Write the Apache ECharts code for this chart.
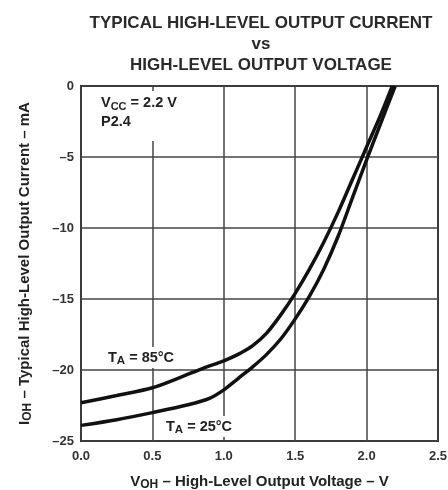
<!DOCTYPE html>
<html>
<head>
<meta charset="utf-8">
<script src="https://cdn.jsdelivr.net/npm/echarts@6/dist/echarts.min.js"></script>
<style>
  html, body { margin: 0; padding: 0; background: #fff; }
  #chart { width: 448px; height: 490px; }
</style>
</head>
<body>
<div id="chart"></div>
<script>
// 曲线数据 (V, mA)
const voltage85 = [0.0, 0.25, 0.5, 0.7, 0.85, 1.0, 1.1, 1.2, 1.3, 1.4, 1.5, 1.6, 1.7, 1.8, 1.9, 2.0, 2.1, 2.18];
const current85 = [-22.3, -21.8, -21.25, -20.5, -19.9, -19.35, -18.9, -18.3, -17.4, -16.1, -14.6, -12.9, -11.0, -8.9, -6.6, -4.3, -2.0, 0];
const voltage25 = [0.0, 0.25, 0.5, 0.75, 0.9, 1.0, 1.1, 1.2, 1.3, 1.4, 1.5, 1.6, 1.7, 1.8, 1.9, 2.0, 2.1, 2.2];
const current25 = [-23.9, -23.5, -23.0, -22.45, -22.0, -21.4, -20.6, -19.8, -18.9, -17.8, -16.4, -14.8, -12.9, -10.6, -7.9, -5.2, -2.6, 0];
const xTicks = [0, 0.5, 1.0, 1.5, 2.0, 2.5];
const yTicks = [-25, -20, -15, -10, -5, 0];

const toPairs = (xs, ys) => xs.map((x, i) => [x, ys[i]]);

const font = 'Liberation Sans, Arial, sans-serif';
const ink = '#222';

// 下标文字样式
const subRich = (size, key) => ({
  m: { fontFamily: font, fontSize: size, fontWeight: 'bold', [key]: ink },
  s: { fontFamily: font, fontSize: size - 3, fontWeight: 'bold', [key]: ink, verticalAlign: 'bottom', padding: [7, 0, 0, 0] },
});

const chart = echarts.init(document.getElementById('chart'));
chart.setOption({
  animation: false,
  title: {
    text: 'TYPICAL HIGH-LEVEL OUTPUT CURRENT\nvs\nHIGH-LEVEL OUTPUT VOLTAGE',
    left: 256,
    top: 8,
    textAlign: 'center',
    textStyle: {
      fontFamily: font,
      fontSize: 17,
      fontWeight: 'bold',
      color: '#2a2a2a',
      lineHeight: 21,
    },
  },
  grid: {
    left: 81,
    top: 86,
    width: 357,
    height: 355,
    outerBoundsMode: 'none', // 固定网格位置
    show: true,
    borderColor: ink,
    borderWidth: 2,
  },
  xAxis: {
    type: 'value',
    min: xTicks[0],
    max: xTicks[xTicks.length - 1],
    interval: 0.5,
    axisLine: { show: false },
    axisTick: { show: false },
    splitLine: { lineStyle: { color: '#444', width: 1.5 } },
    axisLabel: {
      fontFamily: font,
      fontSize: 13,
      fontWeight: 'bold',
      color: '#333',
      margin: 9,
      formatter: (v) => v.toFixed(1),
    },
    name: '{m|V}{s|OH}{m| – High-Level Output Voltage – V}',
    nameLocation: 'middle',
    nameGap: 31,
    nameTextStyle: { rich: subRich(15, 'color') },
  },
  yAxis: {
    type: 'value',
    min: yTicks[0],
    max: yTicks[yTicks.length - 1],
    interval: 5,
    axisLine: { show: false },
    axisTick: { show: false },
    splitLine: { lineStyle: { color: '#444', width: 1.5 } },
    axisLabel: {
      fontFamily: font,
      fontSize: 13,
      fontWeight: 'bold',
      color: '#333',
      margin: 7,
      formatter: (v) => (v < 0 ? '–' + Math.abs(v) : String(v)),
    },
    name: '{m|I}{s|OH}{m| – Typical High-Level Output Current – mA}',
    nameLocation: 'middle',
    nameGap: 47,
    nameRotate: 90,
    nameTextStyle: { rich: subRich(15, 'color') },
  },
  graphic: [
    {
      type: 'text',
      left: 99,
      top: 91,
      z: 50,
      style: {
        text: '{m|V}{s|CC}{m| = 2.2 V}\n{m|P2.4}',
        backgroundColor: '#fff',
        padding: [2, 4, 10, 2],
        rich: {
          m: { fontFamily: font, fontSize: 14.5, fontWeight: 'bold', fill: ink, lineHeight: 19 },
          s: { fontFamily: font, fontSize: 11, fontWeight: 'bold', fill: ink, verticalAlign: 'bottom', padding: [7, 0, 0, 0] },
        },
      },
    },
    {
      type: 'text',
      left: 106,
      top: 347,
      z: 50,
      style: {
        text: '{m|T}{s|A}{m| = 85°C}',
        backgroundColor: '#fff',
        padding: [1, 2, 1, 2],
        rich: subRich(14.5, 'fill'),
      },
    },
    {
      type: 'text',
      left: 164,
      top: 416,
      z: 50,
      style: {
        text: '{m|T}{s|A}{m| = 25°C}',
        backgroundColor: '#fff',
        padding: [1, 2, 1, 2],
        rich: subRich(14.5, 'fill'),
      },
    },
  ],
  series: [
    {
      name: 'TA = 85°C',
      type: 'line',
      data: toPairs(voltage85, current85),
      smooth: 0.3,
      showSymbol: false,
      lineStyle: { color: '#111', width: 3.5 },
      z: 10,
    },
    {
      name: 'TA = 25°C',
      type: 'line',
      data: toPairs(voltage25, current25),
      smooth: 0.3,
      showSymbol: false,
      lineStyle: { color: '#111', width: 3.5 },
      z: 10,
    },
  ],
});
</script>
</body>
</html>
